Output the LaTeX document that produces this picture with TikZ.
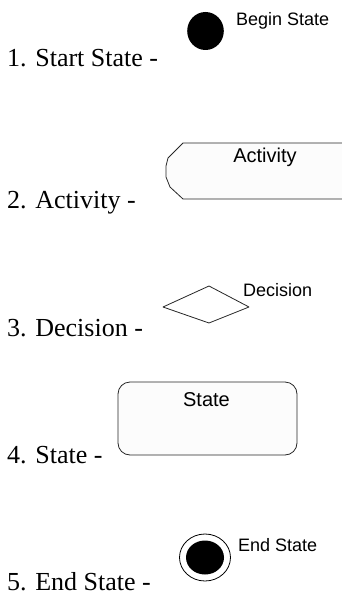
\documentclass[tikz,border=0pt]{standalone}
\usepackage{fontspec}
\setmainfont{Liberation Serif}
\setsansfont{Liberation Sans}
\begin{document}
\begin{tikzpicture}[x=1pt,y=-1pt,
  label/.style={anchor=base west,inner sep=0pt,font=\fontsize{26}{30}\selectfont},
  tag/.style={inner sep=0pt,font=\sffamily\fontsize{18}{21}\selectfont},
  shapeline/.style={draw=black!85,line width=0.8pt,line join=round},
  shapefill/.style={fill=black!1}]
\useasboundingbox (0,0) rectangle (342,596);
\clip (0,0) rectangle (342,596);

% left-hand captions
\node[label] (l1) at (7,67)  {1. Start State -};
\node[label] (l2) at (7,208) {2. Activity -};
\node[label] (l3) at (7,336) {3. Decision -};
\node[label] (l4) at (7,463) {4. State -};
\node[label] (l5) at (7,590) {5. End State -};

% 1. start state
\fill (205.5,31) ellipse [x radius=18.3, y radius=19];
\node[tag,anchor=base west] (tbegin) at (236,26) {Begin State};

% 2. activity (right end runs off the page)
\path[shapeline,shapefill] (350,143) -- (183,143) -- (168,158) -- (166,166)
  -- (166,177) -- (170,187) -- (183,199) -- (350,199);
\node[tag,anchor=base,font=\sffamily\fontsize{20}{24}\selectfont] (tact) at (265,163) {Activity};

% 3. decision
\path[shapeline,fill=white] (163,307) -- (209,286) -- (249,307) -- (209,323) -- cycle;
\node[tag,anchor=base west] (tdec) at (243,296) {Decision};

% 4. state
\path[shapeline,shapefill,rounded corners=12pt] (118,382) rectangle (297,455);
\node[tag,anchor=base,font=\sffamily\fontsize{20}{24}\selectfont] (tstate) at (206.5,406) {State};

% 5. end state
\draw[line width=0.8pt] (205,557.5) ellipse [x radius=25.5, y radius=23.5];
\fill (205,557.5) ellipse [x radius=19, y radius=17];
\node[tag,anchor=base west] (tend) at (238,551) {End State};
\end{tikzpicture}
\end{document}
